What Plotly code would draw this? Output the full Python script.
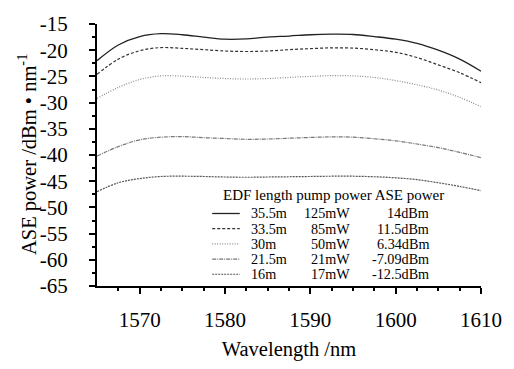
import plotly.graph_objects as go

wavelength = [1565, 1567.5, 1570, 1572.5, 1575, 1577.5, 1580, 1582.5, 1585, 1587.5,
              1590, 1592.5, 1595, 1597.5, 1600, 1602.5, 1605, 1607.5, 1610]
ase_35_5m = [-22.0, -19.0, -17.4, -16.85, -17.05, -17.5, -17.9, -17.85, -17.5, -17.3,
             -17.05, -16.95, -17.0, -17.4, -17.9, -18.7, -20.0, -21.7, -24.0]
ase_33_5m = [-24.6, -21.7, -20.1, -19.5, -19.65, -19.9, -20.15, -20.25, -20.15, -19.9,
             -19.7, -19.55, -19.6, -19.9, -20.4, -21.4, -22.8, -24.3, -26.2]
ase_30m = [-29.2, -27.1, -25.6, -24.9, -24.95, -25.2, -25.4, -25.5, -25.4, -25.2,
           -25.0, -24.85, -24.9, -25.2, -25.8, -26.6, -27.6, -29.0, -30.8]
ase_21_5m = [-40.2, -38.4, -37.1, -36.6, -36.5, -36.7, -36.85, -37.0, -36.95, -36.8,
             -36.65, -36.55, -36.6, -36.9, -37.3, -37.9, -38.6, -39.5, -40.5]
ase_16m = [-47.0, -45.3, -44.5, -44.1, -44.05, -44.1, -44.2, -44.25, -44.2, -44.15,
           -44.1, -44.05, -44.05, -44.15, -44.35, -44.7, -45.3, -46.0, -46.8]

edf_length = ["35.5m", "33.5m", "30m", "21.5m", "16m"]
pump_power = ["125mW", "85mW", "50mW", "21mW", "17mW"]
ase_power = ["14dBm", "11.5dBm", "6.34dBm", "-7.09dBm", "-12.5dBm"]
x_ticks = [1570, 1580, 1590, 1600, 1610]
y_ticks = [-65, -60, -55, -50, -45, -40, -35, -30, -25, -20, -15]
series = [ase_35_5m, ase_33_5m, ase_30m, ase_21_5m, ase_16m]

styles = [
    dict(color="#222222", width=1.3, dash="solid"),
    dict(color="#333333", width=1.2, dash="3px,2px"),
    dict(color="#8a8a8a", width=1.2, dash="1px,1.5px"),
    dict(color="#777777", width=1.2, dash="4px,1px,1px,1px"),
    dict(color="#555555", width=1.2, dash="2px,1px"),
]

FONT = "Liberation Serif"
LEG = 14.2

fig = go.Figure()
for ys, st, name in zip(series, styles, edf_length):
    fig.add_trace(go.Scatter(x=wavelength, y=ys, mode="lines", name=name,
                             line=dict(shape="spline", smoothing=1.0, **st),
                             showlegend=False, hoverinfo="skip"))

W, H = 514, 369
L, R, T, B = 97, 487, 14, 302

def px(x):
    return (x - L) / (R - L)

def py(y):
    return (B - y) / (B - T)

annotations = [
    dict(text="EDF length pump power ASE power", x=px(224), y=py(202.3),
         xref="paper", yref="paper", xanchor="left", yanchor="middle",
         showarrow=False, borderpad=0, font=dict(family=FONT, size=15, color="black")),
    dict(text="ASE power /dBm • nm<sup>-1</sup>", x=px(29), xshift=-3, y=0.5, textangle=-90,
         xref="paper", yref="paper", xanchor="center", yanchor="middle",
         showarrow=False, borderpad=0, font=dict(family=FONT, size=20.5, color="black")),
]
shapes = []
row_y = [222.3, 239.0, 255.7, 272.4, 289.1]
for i, yy in enumerate(row_y):
    st = styles[i]
    shapes.append(dict(type="line", xref="paper", yref="paper",
                       x0=px(214), x1=px(242), y0=py(yy), y1=py(yy),
                       line=dict(color=st["color"], width=st["width"], dash=st["dash"])))
    for txt, xx, anc in [(edf_length[i], 252, "left"), (pump_power[i], 355, "right"),
                         (ase_power[i], 435, "right")]:
        annotations.append(dict(text=txt, x=px(xx), y=py(yy), xref="paper", yref="paper",
                                xanchor=anc, yanchor="middle", showarrow=False, borderpad=0,
                                font=dict(family=FONT, size=LEG, color="black")))

fig.update_layout(
    width=W, height=H,
    margin=dict(l=L, r=W - R, t=T, b=H - B, pad=0),
    paper_bgcolor="white", plot_bgcolor="white",
    font=dict(family=FONT, color="black", size=19),
    annotations=annotations, shapes=shapes,
    xaxis=dict(range=[1565, 1610], tickmode="array", tickvals=x_ticks,
               ticktext=[str(v) for v in x_ticks],
               ticks="outside", ticklen=6, tickwidth=2, tickcolor="black",
               showline=True, linecolor="black", linewidth=2, showgrid=False, zeroline=False,
               tickfont=dict(family=FONT, size=21, color="black"), ticklabelstandoff=8,
               minor=dict(tickmode="array",
                          tickvals=[1567.5, 1572.5, 1575, 1577.5, 1582.5, 1585, 1587.5,
                                    1592.5, 1595, 1597.5, 1602.5, 1605, 1607.5],
                          ticks="outside", ticklen=3, tickwidth=2, tickcolor="black"),
               title=dict(text="Wavelength /nm", font=dict(family=FONT, size=20.5, color="black"),
                          standoff=10)),
    yaxis=dict(range=[-65, -15], tickmode="array", tickvals=y_ticks,
               ticktext=[str(v) for v in y_ticks],
               ticks="outside", ticklen=6, tickwidth=2, tickcolor="black",
               showline=True, linecolor="black", linewidth=2, showgrid=False, zeroline=False,
               tickfont=dict(family=FONT, size=21, color="black"), ticklabelstandoff=17,
               minor=dict(dtick=2.5, tick0=-65, ticks="outside", ticklen=3, tickwidth=2,
                          tickcolor="black")),
)

fig.write_html("out.html", config={"displayModeBar": False},
               post_script="document.body.style.margin='0';")
